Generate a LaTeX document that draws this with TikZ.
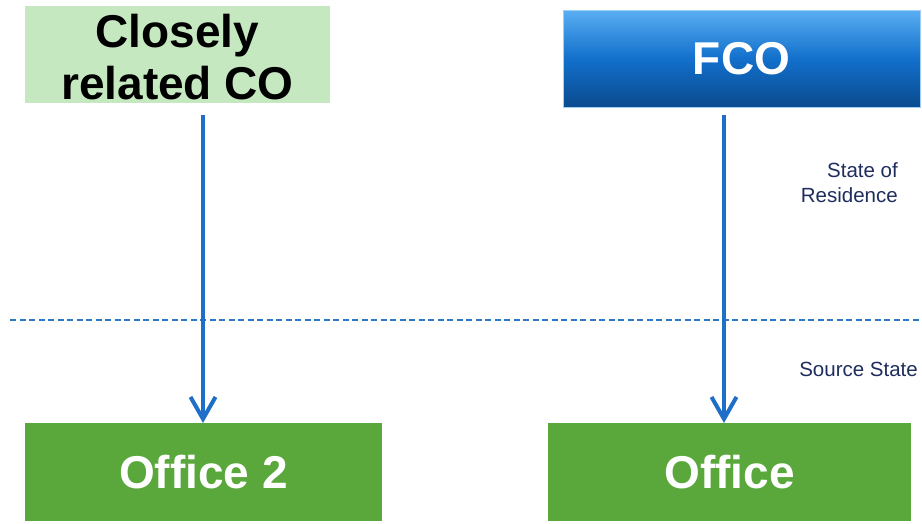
\documentclass[tikz,border=0pt]{standalone}
\usepackage{fontspec}
\setmainfont{Liberation Sans}
\usetikzlibrary{arrows.meta}
\definecolor{lightgreen}{HTML}{C6E8C0}
\definecolor{officegreen}{HTML}{5AA83C}
\definecolor{fcotop}{HTML}{5AAEF2}
\definecolor{fcomid}{HTML}{1270CC}
\definecolor{fcobot}{HTML}{0A4A8E}
\definecolor{arrowblue}{HTML}{1F6FC8}
\definecolor{dashblue}{HTML}{2E78C8}
\definecolor{navytext}{HTML}{1F2D5E}
\tikzset{
  x=1pt, y=-1pt,
  boxbase/.style={inner sep=0pt, outer sep=0pt, anchor=north west, align=center, font=\bfseries\fontsize{46}{55}\selectfont},
  lightbox/.style={boxbase, fill=lightgreen, text=black},
  boxtext/.style={inner sep=0pt, align=center, font=\bfseries\fontsize{46}{52}\selectfont},
  fcobox/.style={boxbase, top color=fcotop, bottom color=fcobot, middle color=fcomid, draw=fcotop!60, line width=0.6pt, text=white},
  officebox/.style={boxbase, fill=officegreen, text=white},
  flowarrow/.style={draw=arrowblue, line width=4pt, -{Straight Barb[length=22pt, width=25pt, line width=4pt]}},
  sidelabel/.style={text=navytext, font=\fontsize{20.5}{25}\selectfont, inner sep=0pt, align=right},
  divider/.style={draw=dashblue, line width=1.5pt, dash pattern=on 6pt off 3.5pt}
}
\begin{document}
\begin{tikzpicture}
\useasboundingbox (0,0) rectangle (922,523);
\node[lightbox, minimum width=305pt, minimum height=97pt] (closely) at (25,6) {};
\node[boxtext, text=black] (closelytext) at ([yshift=-3pt]closely.center) {Closely\\related CO};
\node[fcobox, minimum width=357pt, minimum height=97pt] (fco) at (563,10) {FCO};
\node[officebox, minimum width=357pt, minimum height=98pt] (office2) at (25,423) {Office 2};
\node[officebox, minimum width=363pt, minimum height=98pt] (office) at (548,423) {Office};
\coordinate (dl) at (10,320);
\coordinate (dr) at (922,320);
\draw[divider] (dl) -- (dr);
\node[sidelabel, anchor=north east] (residence) at (898,162) {State of\\Residence};
\node[sidelabel, anchor=east] (source) at (918,369) {Source State};
\draw[flowarrow] ([xshift=-0.5pt,yshift=-12pt]closely.south -| office2.north) -- ([xshift=-0.5pt]office2.north);
\draw[flowarrow] ([xshift=-5.5pt,yshift=-8pt]fco.south -| office.north) -- ([xshift=-5.5pt]office.north);
\end{tikzpicture}
\end{document}
